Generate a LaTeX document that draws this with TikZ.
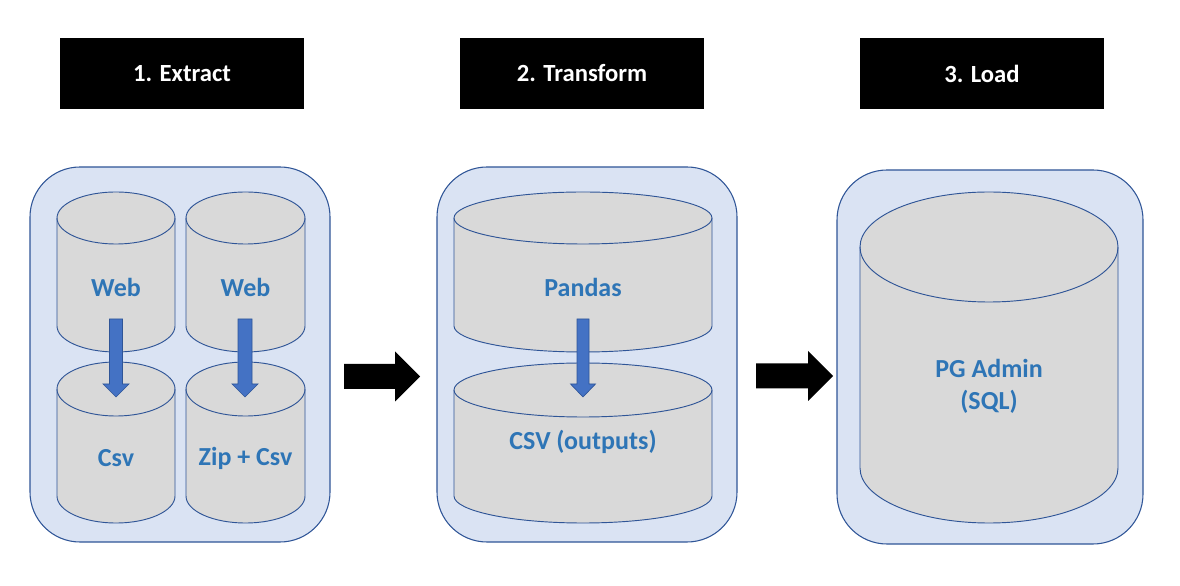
\documentclass[tikz,border=0pt]{standalone}
\usepackage{fontspec}
\setmainfont{Carlito}
\definecolor{panelfill}{HTML}{DAE3F3}
\definecolor{paneledge}{HTML}{2F5597}
\definecolor{cylfill}{HTML}{D9D9D9}
\definecolor{cyledge}{HTML}{2F5597}
\definecolor{lbltext}{HTML}{2E75B6}
\definecolor{arrfill}{HTML}{4472C4}
\tikzset{
  header/.style={fill=black, text=white, minimum width=183pt, minimum height=53.25pt, inner sep=0pt,
    font=\bfseries\fontsize{18.5}{22}\selectfont},
  panel/.style={fill=panelfill, draw=paneledge, line width=0.8pt, rounded corners=37.5pt, inner sep=0pt},
  cylbody/.style={fill=cylfill, draw=cyledge, line width=0.7pt},
  cylline/.style={draw=cyledge, line width=0.7pt},
  lbl/.style={text=lbltext, font=\bfseries\fontsize{19.5}{24}\selectfont, align=center, inner sep=1pt},
  smallarr/.style={fill=arrfill, draw=cyledge, line width=0.5pt},
  bigarr/.style={fill=black}
}
\newcommand\dbcylinder[6]{% name, cx, half width, Ytop, Ybottom, ry  (px units)
  \path[cylbody] (#2-#3,#4-#6) -- (#2-#3,#5+#6)
    arc[start angle=180, end angle=360, x radius=#3*0.75pt, y radius=#6*0.75pt]
    -- (#2+#3,#4-#6)
    arc[start angle=0, end angle=180, x radius=#3*0.75pt, y radius=#6*0.75pt] -- cycle;
  \draw[cylline] (#2-#3,#4-#6)
    arc[start angle=180, end angle=360, x radius=#3*0.75pt, y radius=#6*0.75pt];
  \coordinate (#1) at (#2,{(#4+#5)/2});
}
\begin{document}
\begin{tikzpicture}[x=0.75pt,y=0.75pt]
\useasboundingbox (0,0) rectangle (1180,585);

% headers
\node[header] (h1) at (182,511.5) {1. Extract};
\node[header] (h2) at (582,511.5) {2. Transform};
\node[header] (h3) at (982,511.5) {3. Load};

% panels
\node[panel, minimum width=225pt, minimum height=281.25pt] (p1) at (180,230.5) {};
\node[panel, minimum width=225pt, minimum height=281.25pt] (p2) at (587,230.5) {};
\node[panel, minimum width=229.5pt, minimum height=280.5pt] (p3) at (990,228) {};

% cylinders
\dbcylinder{c1}{116}{59}{393}{233}{26}
\dbcylinder{c2}{245.5}{59.5}{393}{233}{26}
\dbcylinder{c3}{116}{59}{223}{62}{27}
\dbcylinder{c4}{245.5}{59.5}{223}{62}{27}
\dbcylinder{c5}{583}{129}{393}{233}{26}
\dbcylinder{c6}{583}{129}{222}{62}{27}
\dbcylinder{c7}{989}{129}{393}{62}{55}

% labels
\node[lbl] (t1) at (116,298) {Web};
\node[lbl] (t2) at (245.5,298) {Web};
\node[lbl] (t3) at (116,127) {Csv};
\node[lbl] (t4) at (245.5,127) {Zip + Csv};
\node[lbl] (t5) at (583,298) {Pandas};
\node[lbl] (t6) at (583,143) {CSV (outputs)};
\node[lbl] (t7) at (989,199) {PG Admin\\(SQL)};

% small blue arrows
\coordinate (a1s) at (116,266); \coordinate (a1e) at (116,188);
\coordinate (a2s) at (245,266); \coordinate (a2e) at (245,188);
\coordinate (a3s) at (583,266); \coordinate (a3e) at (583,188);
\path[smallarr] (a1s) ++(-6.5,0) -- ++(13,0) -- ++(0,-65) -- ++(6.5,0) -- (a1e) -- ++(-13,13) -- ++(6.5,0) -- cycle;
\path[smallarr] (a2s) ++(-7,0) -- ++(14,0) -- ++(0,-65) -- ++(6,0) -- (a2e) -- ++(-13,13) -- ++(6,0) -- cycle;
\path[smallarr] (a3s) ++(-6,0) -- ++(12,0) -- ++(0,-65) -- ++(6.5,0) -- (a3e) -- ++(-12.5,13) -- ++(6.5,0) -- cycle;

% big black arrows
\coordinate (b1s) at (344,208.5); \coordinate (b1e) at (420,208.5);
\coordinate (b2s) at (756,209); \coordinate (b2e) at (833,209);
\path[bigarr] (b1s) ++(0,12.5) -- ++(51,0) -- ++(0,12.5) -- (b1e) -- ++(-25,-25) -- ++(0,12.5) -- ++(-51,0) -- cycle;
\path[bigarr] (b2s) ++(0,12.5) -- ++(52,0) -- ++(0,12.5) -- (b2e) -- ++(-25,-25) -- ++(0,12.5) -- ++(-52,0) -- cycle;
\end{tikzpicture}
\end{document}
